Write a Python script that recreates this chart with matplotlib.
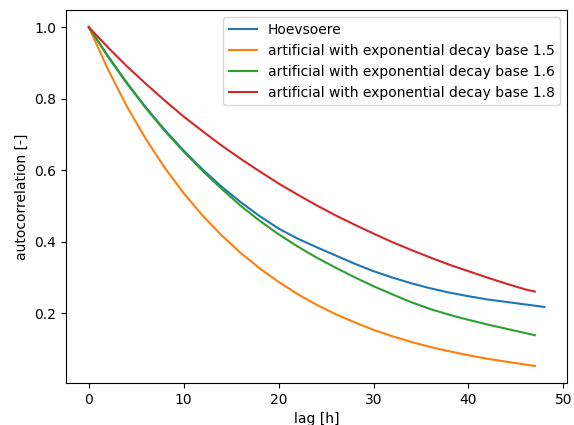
import matplotlib
matplotlib.use("Agg")
import matplotlib.pyplot as plt
import numpy as np

# values (every 2 h)
lag_art = [0, 2, 4, 6, 8, 10, 12, 14, 16, 18, 20, 22, 24, 26, 28, 30,
           32, 34, 36, 38, 40, 42, 44, 46, 47]
lag_hoev = [0, 2, 4, 6, 8, 10, 12, 14, 16, 18, 20, 22, 24, 26, 28, 30,
            32, 34, 36, 38, 40, 42, 44, 46, 48]

hoevsoere = [1.0, 0.920, 0.845, 0.776, 0.713, 0.655, 0.602, 0.554, 0.511,
             0.472, 0.437, 0.409, 0.385, 0.362, 0.339, 0.318, 0.300, 0.284,
             0.270, 0.258, 0.248, 0.239, 0.232, 0.225, 0.218]
base_15 = [1.0, 0.883, 0.779, 0.688, 0.607, 0.536, 0.473, 0.418, 0.369,
           0.326, 0.288, 0.254, 0.224, 0.198, 0.175, 0.154, 0.136, 0.120,
           0.106, 0.094, 0.083, 0.073, 0.065, 0.057, 0.053]
base_16 = [1.0, 0.918, 0.843, 0.774, 0.710, 0.652, 0.598, 0.548, 0.501,
           0.459, 0.421, 0.387, 0.356, 0.328, 0.301, 0.276, 0.253, 0.231,
           0.212, 0.196, 0.182, 0.169, 0.157, 0.145, 0.139]
base_18 = [1.0, 0.944, 0.891, 0.842, 0.795, 0.750, 0.709, 0.669, 0.632,
           0.597, 0.563, 0.532, 0.502, 0.474, 0.448, 0.423, 0.399, 0.377,
           0.356, 0.336, 0.318, 0.300, 0.283, 0.267, 0.261]

fig = plt.figure(figsize=(5.74, 4.25), dpi=100)
ax = fig.add_subplot(111)
fig.subplots_adjust(left=0.115, right=0.988, top=0.976, bottom=0.099)

ax.plot(lag_hoev, hoevsoere, label="Hoevsoere")
ax.plot(lag_art, base_15, label="artificial with exponential decay base 1.5")
ax.plot(lag_art, base_16, label="artificial with exponential decay base 1.6")
ax.plot(lag_art, base_18, label="artificial with exponential decay base 1.8")

ax.set_xlabel("lag [h]")
ax.set_ylabel("autocorrelation [-]")
ax.set_xticks([0, 10, 20, 30, 40, 50])
ax.set_yticks([0.2, 0.4, 0.6, 0.8, 1.0])
ax.legend(loc="upper right")

fig.savefig("out.png", dpi=100)
